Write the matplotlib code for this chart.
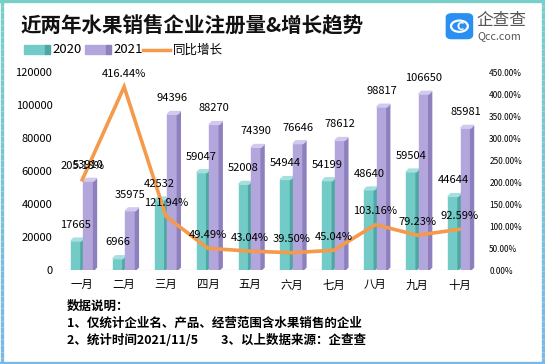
import matplotlib.pyplot as plt
import numpy as np
from matplotlib.patches import Polygon, Rectangle, FancyBboxPatch, Circle
from matplotlib.collections import LineCollection
from matplotlib.lines import Line2D

plt.rcParams['font.family'] = ['Noto Sans CJK SC', 'DejaVu Sans']

months = ['一月', '二月', '三月', '四月', '五月', '六月', '七月', '八月', '九月', '十月']
reg_2020 = [17665, 6966, 42532, 59047, 52008, 54944, 54199, 48640, 59504, 44644]
reg_2021 = [53910, 35975, 94396, 88270, 74390, 76646, 78612, 98817, 106650, 85981]
growth = [205.18, 416.44, 121.94, 49.49, 43.04, 39.50, 45.04, 103.16, 79.23, 92.59]

teal = '#72cbc6'
teal_side = '#4fa7a3'
teal_top = '#a6e0dc'
purple = '#b3a6dd'
purple_side = '#8d80bd'
purple_top = '#d2c9ef'
orange = '#f5994b'

fig = plt.figure(figsize=(5.45, 3.64), dpi=100)

# border, teal at the top fading to blue at the bottom
c_top = np.array([0.47, 0.81, 0.79])
c_bot = np.array([0.48, 0.72, 0.91])
bax = fig.add_axes([0, 0, 1, 1])
bax.set_xlim(0, 1)
bax.set_ylim(0, 1)
bax.axis('off')
ys = np.linspace(0, 1, 60)
segs, cols = [], []
for xb in (0.003, 0.997):
    for i in range(len(ys) - 1):
        segs.append([(xb, ys[i]), (xb, ys[i + 1])])
        t = (ys[i] + ys[i + 1]) / 2
        cols.append(c_bot + (c_top - c_bot) * t)
bax.add_collection(LineCollection(segs, colors=cols, linewidths=2.4))
bax.plot([0, 1], [0.996, 0.996], color=c_top, lw=2.4)
bax.plot([0, 1], [0.004, 0.004], color=c_bot, lw=2.4)

# title and legend
fig.text(0.037, 0.932, '近两年水果销售企业注册量&增长趋势', fontsize=14.8,
         fontweight='bold', va='center', ha='left', color='#111111')
ly = 0.863
bax.add_patch(Rectangle((0.044, ly - 0.012), 0.038, 0.024, color=teal))
bax.add_patch(Rectangle((0.082, ly - 0.012), 0.010, 0.024, color=teal_side))
fig.text(0.097, ly, '2020', fontsize=9.5, va='center')
bax.add_patch(Rectangle((0.156, ly - 0.012), 0.038, 0.024, color=purple))
bax.add_patch(Rectangle((0.194, ly - 0.012), 0.010, 0.024, color=purple_side))
fig.text(0.208, ly, '2021', fontsize=9.5, va='center')
bax.add_line(Line2D([0.263, 0.312], [ly, ly], color=orange, lw=2.5))
fig.text(0.318, ly, '同比增长', fontsize=9, va='center')

# logo
bax.add_patch(FancyBboxPatch((0.822, 0.897), 0.042, 0.062,
                             boxstyle='round,pad=0.003,rounding_size=0.01',
                             color='#2a8ff2'))
bax.add_patch(Circle((0.843, 0.928), 0.0155, fill=False, ec='white', lw=1.6,
                     transform=bax.transData))
fig.text(0.8435, 0.927, 'C', fontsize=7, color='white', ha='center', va='center',
         fontweight='bold', family=['DejaVu Sans'])
fig.text(0.875, 0.944, '企查查', fontsize=12, color='#555555', va='center')
fig.text(0.876, 0.900, 'Qcc.com', fontsize=7.8, color='#555555', va='center')

# chart
ax = fig.add_axes([0.114, 0.258, 0.771, 0.544])
ax2 = ax.twinx()
ax.set_zorder(ax2.get_zorder() + 1)
ax.patch.set_visible(False)

x = np.arange(len(months))
w = 0.24
off = 0.15
dx = 0.07
dy = 1700

def draw_bars(xs, vals, face, side, top):
    for xc, v in zip(xs, vals):
        ax.add_patch(Rectangle((xc - w / 2, 0), w, v, color=face, zorder=3))
        ax.add_patch(Polygon([(xc + w / 2, 0), (xc + w / 2 + dx, dy),
                              (xc + w / 2 + dx, v + dy), (xc + w / 2, v)],
                             color=side, zorder=3))
        ax.add_patch(Polygon([(xc - w / 2, v), (xc - w / 2 + dx, v + dy),
                              (xc + w / 2 + dx, v + dy), (xc + w / 2, v)],
                             color=top, zorder=3))

draw_bars(x - off, reg_2020, teal, teal_side, teal_top)
draw_bars(x + off, reg_2021, purple, purple_side, purple_top)

for xi, v in zip(x, reg_2020):
    ax.annotate(str(v), (xi - off, v), xytext=(0, 8), textcoords='offset points',
                ha='center', va='bottom', fontsize=8, zorder=6)
for xi, v in zip(x, reg_2021):
    ax.annotate(str(v), (xi + off, v), xytext=(0, 8), textcoords='offset points',
                ha='center', va='bottom', fontsize=8, zorder=6)

ax.axhline(0, color='#e6e6e6', lw=1, zorder=2)
ax.set_xlim(-0.48, 9.55)
ax.set_ylim(0, 120000)
ax.set_yticks(np.arange(0, 120001, 20000))
ax.set_xticks(x)
ax.set_xticklabels(months, fontsize=8.2)
ax.tick_params(axis='y', length=0, pad=7, labelsize=8)
ax.tick_params(axis='x', length=0, pad=7)
for s in ax.spines.values():
    s.set_visible(False)

# growth line on the right axis, drawn in the main axes' space for zorder
gy = np.array(growth) / 450 * 120000
ax.plot(x, gy, color=orange, lw=2.6, zorder=4, solid_joinstyle='miter')
for xi, g, yv in zip(x, growth, gy):
    ax.annotate(f'{g:.2f}%', (xi, yv), xytext=(0, 6), textcoords='offset points',
                ha='center', va='bottom', fontsize=8, zorder=6)

ax2.set_ylim(0, 450)
ax2.set_yticks(np.arange(0, 451, 50))
ax2.set_yticklabels([f'{t:.2f}%' for t in np.arange(0, 451, 50)], fontsize=6)
ax2.tick_params(axis='y', length=0, pad=5)
for s in ax2.spines.values():
    s.set_visible(False)

# notes
fig.text(0.123, 0.158, '数据说明：', fontsize=9, fontweight='bold', va='center')
fig.text(0.123, 0.112, '1、仅统计企业名、产品、经营范围含水果销售的企业', fontsize=9,
         fontweight='bold', va='center')
fig.text(0.123, 0.064, '2、统计时间2021/11/5        3、以上数据来源：企查查', fontsize=9,
         fontweight='bold', va='center')

fig.savefig('out.png', dpi=100)
